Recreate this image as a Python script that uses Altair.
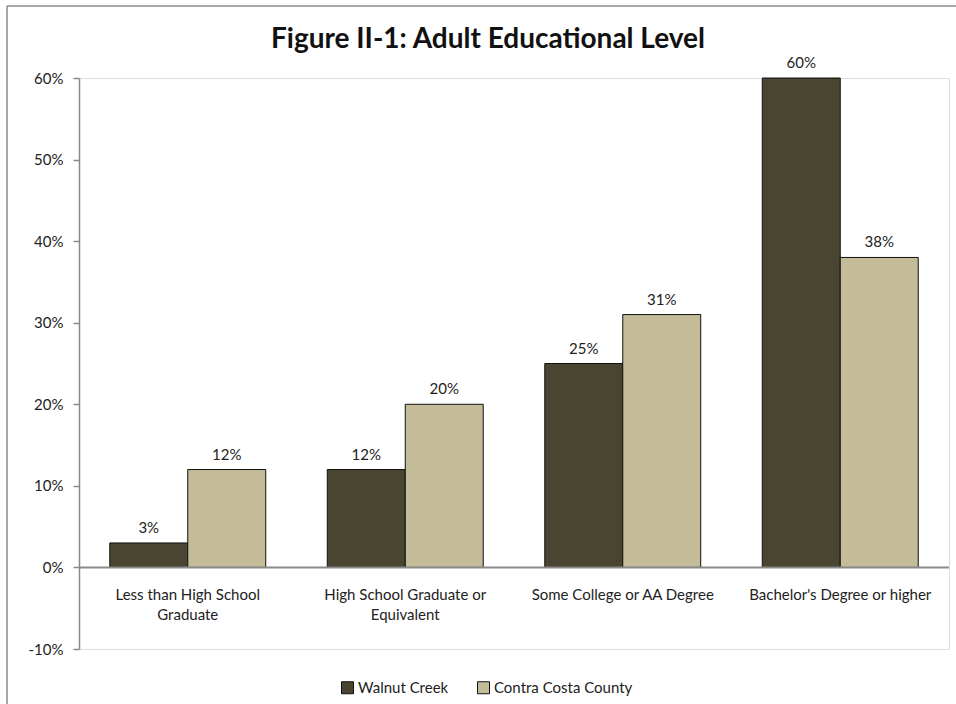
import altair as alt
import pandas as pd

categories = ["Less than High School Graduate", "High School Graduate or Equivalent",
              "Some College or AA Degree", "Bachelor's Degree or higher"]
cat_labels = ["Less than  High School\nGraduate", "High School Graduate  or\nEquivalent",
              "Some College or AA Degree", "Bachelor's Degree or higher"]
series = ["Walnut Creek", "Contra Costa County"]
walnut_creek = [0.03, 0.12, 0.25, 0.60]
contra_costa = [0.12, 0.20, 0.31, 0.38]
colors = ["#4a4530", "#c4bc98"]
title_text = "Figure II-1: Adult Educational Level"

rows = []
for c, w, cc in zip(categories, walnut_creek, contra_costa):
    rows.append({"cat": c, "series": series[0], "value": w})
    rows.append({"cat": c, "series": series[1], "value": cc})
df = pd.DataFrame(rows)
labels_df = pd.DataFrame({"cat": categories, "label": cat_labels})

FONT = "Lato"
FS = 15

x_enc = alt.X("cat:N", sort=categories,
              scale=alt.Scale(paddingInner=0.283, paddingOuter=0.1415),
              axis=None)
y_scale = alt.Scale(domain=[-0.1, 0.6], nice=False, zero=False)
xoff = alt.XOffset("series:N", sort=series, scale=alt.Scale(paddingInner=0, paddingOuter=0))

bars = alt.Chart(df).mark_bar(stroke="#111111", strokeWidth=1).encode(
    x=x_enc,
    xOffset=xoff,
    y=alt.Y("value:Q", scale=y_scale,
            axis=alt.Axis(values=[-0.1, 0, 0.1, 0.2, 0.3, 0.4, 0.5, 0.6], format=".0%",
                          labelExpr="replace(datum.label, '\u2212', '-')",
                          title=None, grid=False, domainColor="#888888", domainWidth=1.5,
                          tickColor="#888888", tickSize=6, tickWidth=1.5,
                          labelFont=FONT, labelFontSize=FS, labelColor="#222222",
                          labelPadding=10)),
    color=alt.Color("series:N", sort=series,
                    scale=alt.Scale(domain=series, range=colors),
                    legend=alt.Legend(title=None, orient="none", direction="horizontal",
                                      legendX=261, legendY=602, symbolType="square",
                                      symbolSize=144, symbolStrokeColor="#111111",
                                      symbolStrokeWidth=1, labelFont=FONT,
                                      labelFontSize=FS, labelColor="#222222",
                                      columnPadding=26, labelOffset=3)),
)

values = alt.Chart(df).mark_text(baseline="bottom", dy=-7, font=FONT, fontSize=FS,
                                 color="#222222").encode(
    x=x_enc,
    xOffset=xoff,
    y=alt.Y("value:Q", scale=y_scale),
    text=alt.Text("value:Q", format=".0%"),
)

zero = alt.Chart(pd.DataFrame({"z": [0]})).mark_rule(color="#8a8a8a", strokeWidth=2).encode(
    y=alt.Y("z:Q", scale=y_scale),
)

cat_text = alt.Chart(labels_df).mark_text(baseline="middle", dy=28, font=FONT, fontSize=FS,
                                          lineBreak="\n", lineHeight=20,
                                          color="#222222").encode(
    x=x_enc,
    y=alt.datum(0),
    text="label:N",
)

title = alt.Chart(pd.DataFrame({"t": [title_text]})).mark_text(
    font=FONT, fontSize=28, fontWeight="bold", color="#111111", baseline="middle",
    align="center").encode(x=alt.value(409), y=alt.value(-38), text="t:N")

border_top = alt.Chart(pd.DataFrame({"a": [0]})).mark_rule(color="#8c8c8c", strokeWidth=1.5).encode(
    x=alt.value(-72), x2=alt.value(900), y=alt.value(-72))
border_left = alt.Chart(pd.DataFrame({"a": [0]})).mark_rule(color="#8c8c8c", strokeWidth=1.5).encode(
    x=alt.value(-72), y=alt.value(-72), y2=alt.value(640))

chart = alt.layer(border_top, border_left, title, bars, zero, values, cat_text).properties(
    width=870, height=571,
    autosize=alt.AutoSizeParams(type="none"),
    padding={"left": 79, "top": 78, "right": 7, "bottom": 55},
).configure_view(stroke=None).configure(background="white")

chart.save("out.html", embed_options={"renderer": "svg", "actions": False})
